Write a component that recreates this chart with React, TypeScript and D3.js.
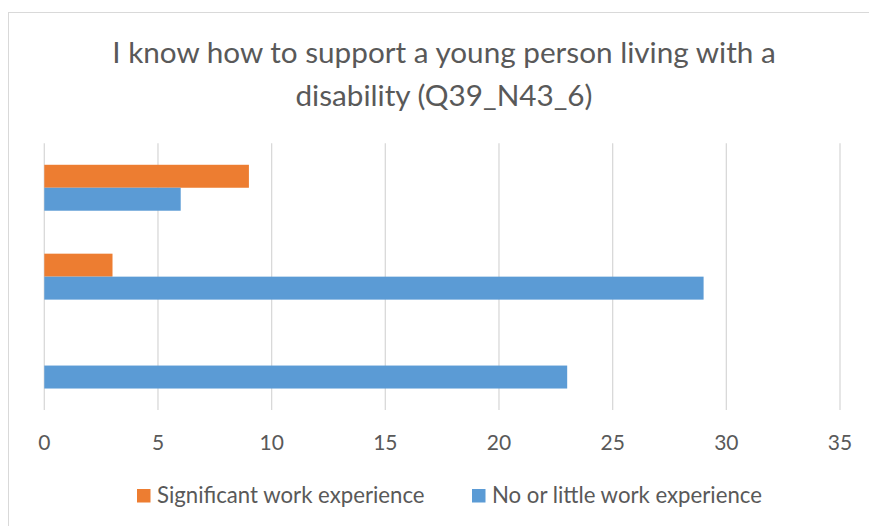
import React from "react";
import * as d3 from "d3";

const categories = ["Category 1", "Category 2", "Category 3"];
const seriesNames = ["Significant work experience", "No or little work experience"];
const significantValues = [9, 3, 0];
const littleValues = [6, 29, 23];
const xTicks = [0, 5, 10, 15, 20, 25, 30, 35];
const titleLines = ["I know how to support a young person living with a", "disability (Q39_N43_6)"];
const seriesColors = ["#ED7D31", "#5B9BD5"];

const W = 869;
const H = 526;
const FONT = "Lato, 'Open Sans', sans-serif";
const TEXT = "#595959";

export default function App() {
  const x = d3.scaleLinear().domain([0, 35]).range([44.3, 840]);
  const y = d3.scaleBand<string>().domain(categories).range([143.3, 410]).padding(0);
  const gap = 1.87;
  const barH = y.step() / (seriesNames.length + gap);
  const values = [significantValues, littleValues];

  return (
    <svg
      width={W}
      height={H}
      style={{ position: "absolute", left: 0, top: 0, background: "#fff" }}
      fontFamily={FONT}
    >
      <rect x={8.5} y={12.5} width={W + 10} height={H + 10} fill="#fff" stroke="#d9d9d9" strokeWidth={1} />
      {titleLines.map((t, i) => (
        <text key={i} x={444} y={63 + i * 43} textAnchor="middle" fontSize={29.7} fill={TEXT}>
          {t}
        </text>
      ))}
      {xTicks.map((t) => (
        <g key={t}>
          <line x1={x(t)} x2={x(t)} y1={143.3} y2={410} stroke="#d9d9d9" strokeWidth={1.3} />
          <text x={x(t)} y={450} textAnchor="middle" fontSize={21} fill={TEXT}>
            {t}
          </text>
        </g>
      ))}
      {categories.map((c, ci) => {
        const center = (y(c) as number) + y.step() / 2;
        const inner = d3
          .scaleBand<string>()
          .domain(seriesNames)
          .range([center - barH, center + barH]);
        return seriesNames.map((s, si) => {
          const v = values[si][ci];
          if (!v) return null;
          return (
            <rect
              key={c + s}
              x={x(0)}
              y={inner(s) as number}
              width={x(v) - x(0)}
              height={inner.bandwidth()}
              fill={seriesColors[si]}
            />
          );
        });
      })}
      {seriesNames.map((s, i) => {
        const lx = [137, 472][i];
        return (
          <g key={s}>
            <rect x={lx} y={489} width={13.5} height={13.5} fill={seriesColors[i]} />
            <text x={lx + 20} y={502.5} fontSize={22.2} fill={TEXT}>
              {s}
            </text>
          </g>
        );
      })}
    </svg>
  );
}
